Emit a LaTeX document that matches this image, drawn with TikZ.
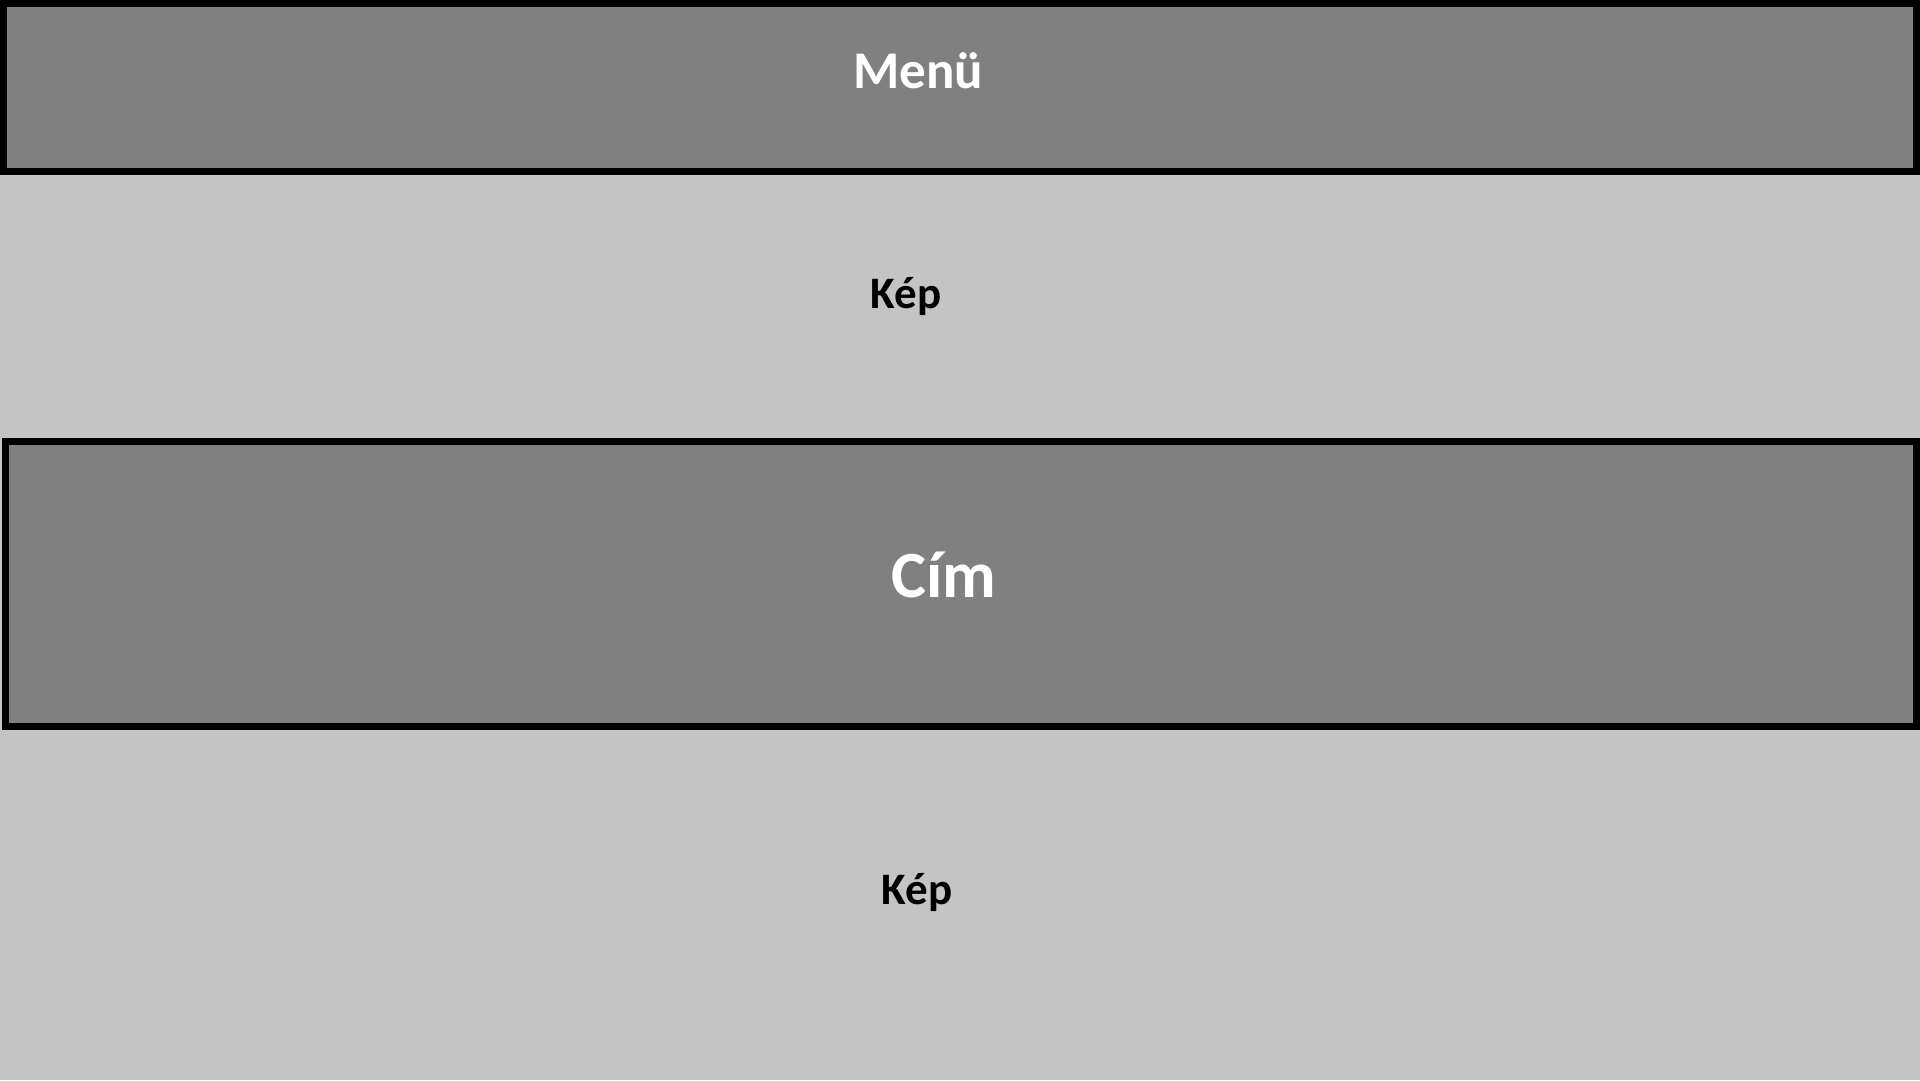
\documentclass[tikz,border=0pt]{standalone}
\usepackage{fontspec}
\setmainfont{Carlito}
\definecolor{bg}{HTML}{C4C4C4}
\definecolor{boxfill}{HTML}{808080}
\begin{document}
\begin{tikzpicture}[x=1pt,y=-1pt,
  panel/.style={draw=black, fill=boxfill, line width=7pt, inner sep=0pt, outer sep=0pt, rectangle},
  whitelabel/.style={text=white, anchor=base, inner sep=0pt},
  darklabel/.style={text=black, font=\bfseries\fontsize{45}{54}\selectfont, anchor=base, inner sep=0pt}]
\useasboundingbox (0,0) rectangle (1920,1080);
\fill[bg] (0,0) rectangle (1920,1080);
\node[panel, minimum width=1913.5pt, minimum height=168pt] (menu) at (959.75,87.5) {};
\node[panel, minimum width=1911.5pt, minimum height=285pt] (cim) at (960.75,584) {};
\node[whitelabel, font=\bfseries\fontsize{53}{62}\selectfont] (menutext) at (918,88) {Menü};
\node[darklabel] (kep1) at (906,308) {Kép};
\node[whitelabel, font=\bfseries\fontsize{66}{78}\selectfont] (cimtext) at (944,597) {Cím};
\node[darklabel] (kep2) at (917,904) {Kép};
\end{tikzpicture}
\end{document}
